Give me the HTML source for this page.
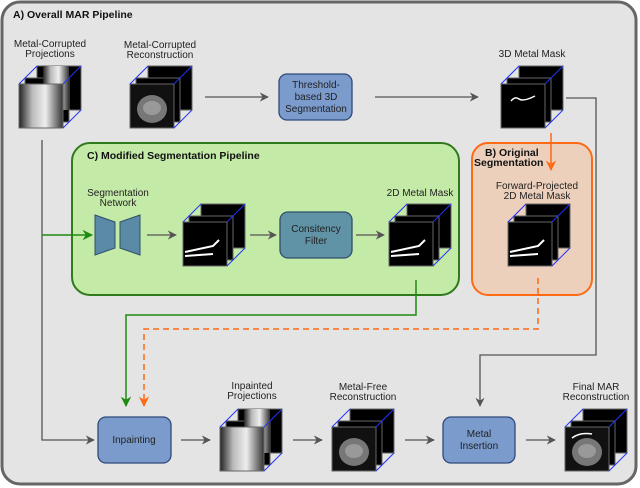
<!DOCTYPE html>
<html><head><meta charset="utf-8"><style>
html,body{margin:0;padding:0;background:#fff}
svg{display:block}
text{font-family:"Liberation Sans",sans-serif;font-size:10px;fill:#222}
.b{font-weight:bold;font-size:10.5px;fill:#111}
</style></head><body>
<svg width="640" height="488" viewBox="0 0 640 488" xmlns="http://www.w3.org/2000/svg">
<defs>
<marker id="ag" viewBox="0 0 10 10" refX="9" refY="5" markerWidth="7" markerHeight="7" orient="auto"><path d="M0,0 L10,5 L0,10 L3,5 z" fill="#555"/></marker>
<marker id="agr" viewBox="0 0 10 10" refX="9" refY="5" markerWidth="7" markerHeight="7" orient="auto"><path d="M0,0 L10,5 L0,10 L3,5 z" fill="#1e8a12"/></marker>
<marker id="aor" viewBox="0 0 10 10" refX="9" refY="5" markerWidth="7" markerHeight="7" orient="auto"><path d="M0,0 L10,5 L0,10 L3,5 z" fill="#ff6a14"/></marker>
<linearGradient id="xr" x1="0" x2="1"><stop offset="0" stop-color="#222"/><stop offset="0.3" stop-color="#bbb"/><stop offset="0.6" stop-color="#eee"/><stop offset="1" stop-color="#333"/></linearGradient>
<g id="frame">
<rect x="18" y="-18" width="44" height="44" fill="#000" stroke="#666"/>
<rect x="6" y="-6" width="44" height="44" fill="#000" stroke="#666"/>
</g>
<g id="lines" stroke="#2233ff" stroke-width="1">
<line x1="0" y1="0" x2="18" y2="-18"/><line x1="44" y1="0" x2="62" y2="-18"/><line x1="44" y1="44" x2="62" y2="26"/>
</g>
<g id="xray"><use href="#frame"/><rect x="24" y="-18" width="26" height="44" fill="url(#xr)"/><rect x="0" y="0" width="44" height="44" fill="url(#xr)" stroke="#666"/><use href="#lines"/></g>
<g id="recon"><use href="#frame"/><rect x="0" y="0" width="44" height="44" fill="#111" stroke="#666"/><ellipse cx="22" cy="25" rx="15" ry="14" fill="#777"/><ellipse cx="22" cy="24" rx="9" ry="7" fill="#999"/><use href="#lines"/></g>
<g id="mask"><use href="#frame"/><rect x="0" y="0" width="44" height="44" fill="#000" stroke="#666"/><path d="M2,30 L30,24 L36,18 M2,34 L30,32" stroke="#fff" stroke-width="2" fill="none"/><use href="#lines"/></g>
</defs>
<rect x="2" y="2" width="634" height="482" rx="18" fill="#e4e4e4" stroke="#666" stroke-width="3"/>
<text x="13" y="18" class="b">A) Overall MAR Pipeline</text>

<text x="50" y="47" text-anchor="middle">Metal-Corrupted</text><text x="50" y="57" text-anchor="middle">Projections</text>
<text x="160" y="48" text-anchor="middle">Metal-Corrupted</text><text x="160" y="58" text-anchor="middle">Reconstruction</text>
<text x="532" y="57" text-anchor="middle">3D Metal Mask</text>

<use href="#xray" x="19" y="84"/>
<use href="#recon" x="130" y="84"/>
<g transform="translate(501,84)"><use href="#frame"/><rect width="44" height="44" fill="#000" stroke="#666"/><path d="M10,17 Q14,12 18,15 T34,12" stroke="#fff" stroke-width="1.5" fill="none"/><use href="#lines"/></g>

<rect x="279" y="74" width="73" height="46" rx="8" fill="#7b9bcd" stroke="#2e4a7a" stroke-width="1.3"/>
<text x="316" y="88" text-anchor="middle">Threshold-</text><text x="316" y="100" text-anchor="middle">based 3D</text><text x="316" y="112" text-anchor="middle">Segmentation</text>
<line x1="205" y1="97" x2="268" y2="97" stroke="#555" stroke-width="1.3" marker-end="url(#ag)"/>
<line x1="375" y1="97" x2="478" y2="97" stroke="#555" stroke-width="1.3" marker-end="url(#ag)"/>

<!-- C box -->
<rect x="72" y="143" width="387" height="152" rx="18" fill="#c4eaa8" stroke="#2f7a1a" stroke-width="2"/>
<text x="87" y="159" class="b">C) Modified Segmentation Pipeline</text>
<text x="118" y="196" text-anchor="middle">Segmentation</text><text x="118" y="206" text-anchor="middle">Network</text>
<path d="M95,215 L115,222 L115,248 L95,255 z" fill="#5b8aa6" stroke="#2f4f6a"/>
<path d="M140,215 L120,222 L120,248 L140,255 z" fill="#5b8aa6" stroke="#2f4f6a"/>
<line x1="147" y1="235" x2="176" y2="235" stroke="#555" stroke-width="1.3" marker-end="url(#ag)"/>
<use href="#mask" x="183" y="222"/>
<line x1="250" y1="235" x2="276" y2="235" stroke="#555" stroke-width="1.3" marker-end="url(#ag)"/>
<rect x="280" y="212" width="72" height="46" rx="8" fill="#5f93a5" stroke="#2f4f6a" stroke-width="1.3"/>
<text x="316" y="232" text-anchor="middle">Consitency</text><text x="316" y="244" text-anchor="middle">Filter</text>
<line x1="356" y1="235" x2="384" y2="235" stroke="#555" stroke-width="1.3" marker-end="url(#ag)"/>
<text x="420" y="196" text-anchor="middle">2D Metal Mask</text>
<use href="#mask" x="389" y="222"/>

<!-- B box -->
<rect x="472" y="143" width="120" height="152" rx="16" fill="#ecd0bc" stroke="#ff6a14" stroke-width="2"/>
<text x="485" y="156" class="b">B) Original</text><text x="474" y="166" class="b">Segmentation</text>
<text x="537" y="189" text-anchor="middle">Forward-Projected</text><text x="537" y="199" text-anchor="middle">2D Metal Mask</text>
<use href="#mask" x="508" y="222"/>
<line x1="551" y1="133" x2="551" y2="170" stroke="#ff6a14" stroke-width="1.5" marker-end="url(#aor)"/>

<!-- connectors -->
<polyline points="42,140 42,440 94,440" fill="none" stroke="#555" stroke-width="1.3" marker-end="url(#ag)"/>
<line x1="42" y1="235" x2="92" y2="235" stroke="#1e8a12" stroke-width="1.5" marker-end="url(#agr)"/>
<polyline points="416,280 416,315 126,315 126,406" fill="none" stroke="#1e8a12" stroke-width="1.5" marker-end="url(#agr)"/>
<polyline points="538,278 538,329 144,329 144,406" fill="none" stroke="#ff6a14" stroke-width="1.5" stroke-dasharray="6,4" marker-end="url(#aor)"/>
<polyline points="566,98 596,98 596,355 480,355 480,406" fill="none" stroke="#555" stroke-width="1.3" marker-end="url(#ag)"/>

<!-- bottom row -->
<rect x="98" y="417" width="73" height="46" rx="8" fill="#7b9bcd" stroke="#2e4a7a" stroke-width="1.3"/>
<text x="134" y="443" text-anchor="middle">Inpainting</text>
<line x1="181" y1="440" x2="210" y2="440" stroke="#555" stroke-width="1.3" marker-end="url(#ag)"/>
<text x="252" y="389" text-anchor="middle">Inpainted</text><text x="252" y="399" text-anchor="middle">Projections</text>
<use href="#xray" x="220" y="427"/>
<line x1="293" y1="440" x2="322" y2="440" stroke="#555" stroke-width="1.3" marker-end="url(#ag)"/>
<text x="363" y="390" text-anchor="middle">Metal-Free</text><text x="363" y="400" text-anchor="middle">Reconstruction</text>
<use href="#recon" x="332" y="427"/>
<line x1="405" y1="440" x2="434" y2="440" stroke="#555" stroke-width="1.3" marker-end="url(#ag)"/>
<rect x="443" y="417" width="72" height="46" rx="8" fill="#7b9bcd" stroke="#2e4a7a" stroke-width="1.3"/>
<text x="479" y="437" text-anchor="middle">Metal</text><text x="479" y="449" text-anchor="middle">Insertion</text>
<line x1="526" y1="440" x2="555" y2="440" stroke="#555" stroke-width="1.3" marker-end="url(#ag)"/>
<text x="596" y="390" text-anchor="middle">Final MAR</text><text x="596" y="400" text-anchor="middle">Reconstruction</text>
<use href="#recon" x="565" y="427"/>
<path d="M572,438 Q580,432 592,434" stroke="#fff" stroke-width="1.5" fill="none"/>
</svg>
</body></html>
